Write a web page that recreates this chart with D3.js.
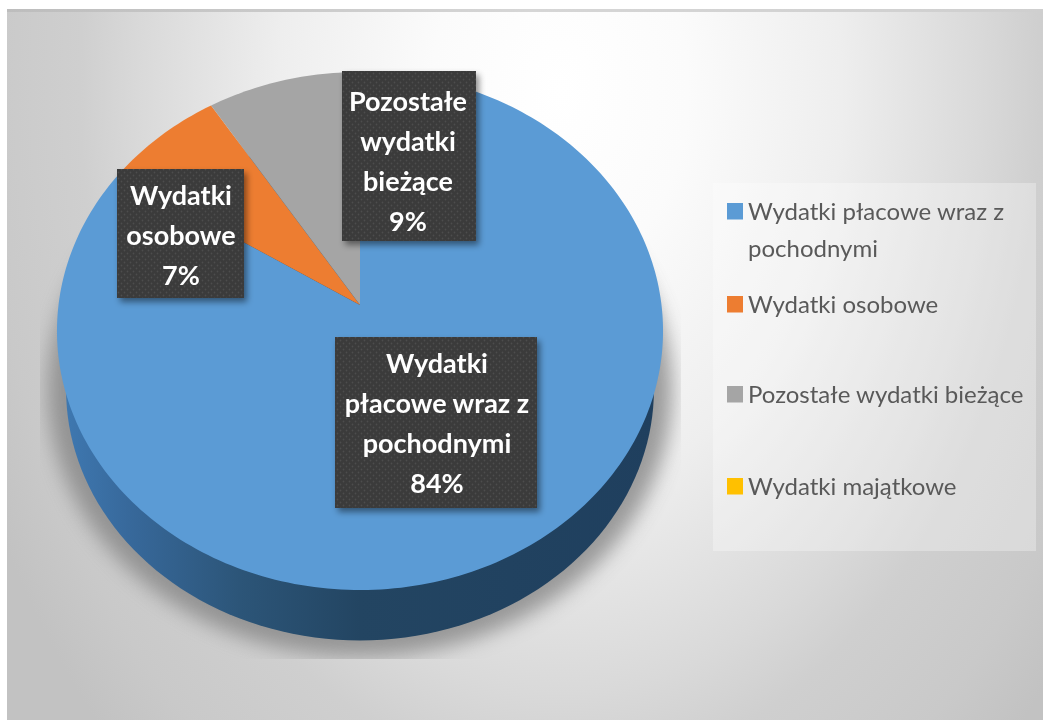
<!DOCTYPE html>
<html><head><meta charset="utf-8">
<script src="https://cdn.jsdelivr.net/npm/d3@7"></script>
<style>html,body{margin:0;padding:0;background:#fff;overflow:hidden}svg{display:block}#soft{filter:blur(0.45px)}</style>
</head><body><svg id="c" width="1043" height="720"><g id="soft"></g></svg>
<script>
const categories = ["Wydatki płacowe wraz z pochodnymi","Wydatki osobowe","Pozostałe wydatki bieżące","Wydatki majątkowe"];
const values = [84,7,9,0];
const colors = ["#5b9bd5","#ed7d31","#a5a5a5","#ffc000"];
const labelLines = [["Wydatki","płacowe wraz z","pochodnymi","84%"],["Wydatki","osobowe","7%"],["Pozostałe","wydatki","bieżące","9%"]];
const legendLines = [["Wydatki płacowe wraz z","pochodnymi"],["Wydatki osobowe"],["Pozostałe wydatki bieżące"],["Wydatki majątkowe"]];

const root = d3.select("#c"), defs = root.append("defs"), svg = d3.select("#soft");
const W=1043,H=720;

// background
const bg = defs.append("radialGradient").attr("id","bg").attr("gradientUnits","userSpaceOnUse")
  .attr("cx",0).attr("cy",0).attr("r",640).attr("gradientTransform","translate(560,90) scale(1,1.43)");
[[0,"#ffffff"],[.2,"#fbfbfb"],[.44,"#eeeeee"],[.66,"#d9d9d9"],[.75,"#cfcfcf"],[.9,"#c9c9c9"],[1,"#c2c2c2"]].forEach(([o,c])=>bg.append("stop").attr("offset",o).attr("stop-color",c));
svg.append("rect").attr("x",7).attr("y",10).attr("width",W-7+4).attr("height",H-10+4).attr("fill","url(#bg)");
const topLine = defs.append("linearGradient").attr("id","tl");
[[0,"#bdbdbd"],[.5,"#d6d6d6"],[1,"#cfcfcf"]].forEach(([o,c])=>topLine.append("stop").attr("offset",o).attr("stop-color",c));
svg.append("rect").attr("x",7).attr("y",9).attr("width",W-7+4).attr("height",3).attr("fill","url(#tl)");

// legend panel
svg.append("rect").attr("x",713).attr("y",183).attr("width",323).attr("height",368).attr("fill","#fff").attr("opacity",.3);

// pie in perspective
const cx=360, cy=305, a=301.5, b=256.4, k=-0.1004;
const project = (t,r=1,dy=0,s=1) => {
  const u=Math.sin(t)*r, v=-Math.cos(t)*r, w=1+k*v;
  return [cx+s*a*u/w, cy+dy+s*b*v/w];
};
const pie = d3.pie().sort(null).value(d=>d);
const arcs = pie(values);
const line = d3.line();
const full = d3.range(0,361,2).map(d=>d*Math.PI/180);
const wedge = d => {
  const n = Math.max(2,Math.ceil((d.endAngle-d.startAngle)/0.02));
  const pts=[[cx,cy]];
  for(let i=0;i<=n;i++) pts.push(project(d.startAngle+(d.endAngle-d.startAngle)*i/n));
  return line(pts)+"Z";
};

// shadow
const f = defs.append("filter").attr("id","sh").attr("x","-20%").attr("y","-20%").attr("width","140%").attr("height","140%");
f.append("feGaussianBlur").attr("stdDeviation",10);
const cp = defs.append("clipPath").attr("id","shc");
cp.append("rect").attr("x",40).attr("y",60).attr("width",641).attr("height",599);
svg.append("g").attr("clip-path","url(#shc)").append("path")
  .attr("d",line(full.map(t=>project(t,1,58,1.03)))+"Z").attr("fill","#858585").attr("opacity",.8).attr("filter","url(#sh)");

// wall
const wg = defs.append("linearGradient").attr("id","wall").attr("gradientUnits","userSpaceOnUse").attr("x1",60).attr("x2",660).attr("y1",0).attr("y2",0);
[[0,"#3f79b2"],[.12,"#37689a"],[.3,"#2c5578"],[.5,"#234562"],[1,"#1f3f5e"]].forEach(([o,c])=>wg.append("stop").attr("offset",o).attr("stop-color",c));
svg.append("path").attr("d",line(full.map(t=>project(t,1,59,0.97)))+"Z").attr("fill","url(#wall)");

// slices
const sl = svg.append("g");
sl.selectAll("path").data(arcs).join("path").attr("d",wedge)
  .attr("fill",(d,i)=>colors[i]);

// label boxes
const pat = defs.append("pattern").attr("id","dots").attr("patternUnits","userSpaceOnUse").attr("width",6).attr("height",6);
pat.append("rect").attr("width",6).attr("height",6).attr("fill","#3a3a3a");
pat.append("circle").attr("cx",1.5).attr("cy",1.5).attr("r",.9).attr("fill","#4d4d4d");
pat.append("circle").attr("cx",4.5).attr("cy",4.5).attr("r",.9).attr("fill","#4d4d4d");
const bs = defs.append("filter").attr("id","bs").attr("x","-20%").attr("y","-20%").attr("width","140%").attr("height","140%");
bs.append("feDropShadow").attr("dx",3).attr("dy",4).attr("stdDeviation",3).attr("flood-color","#000").attr("flood-opacity",.45);

const boxes = [
 {x:335,y:337,w:202,h:171,cx:437,y0:373},
 {x:117,y:169,w:127,h:129,cx:181,y0:205},
 {x:342,y:71,w:134,h:170,cx:408,y0:111}
];
const lg = svg.append("g").selectAll("g").data(labelLines).join("g");
lg.append("rect").attr("x",(d,i)=>boxes[i].x).attr("y",(d,i)=>boxes[i].y).attr("width",(d,i)=>boxes[i].w).attr("height",(d,i)=>boxes[i].h)
  .attr("fill","url(#dots)").attr("filter","url(#bs)");
lg.each(function(lines,i){
  d3.select(this).selectAll("text").data(lines).join("text")
    .attr("x",boxes[i].cx).attr("y",(d,j)=>boxes[i].y0+j*40)
    .attr("text-anchor","middle").attr("fill","#fff")
    .attr("font-family","Lato, 'Open Sans', sans-serif").attr("font-weight",700).attr("font-size",27)
    .text(d=>d);
});

// legend
const ly = [203,296,386,478];
const leg = svg.append("g").selectAll("g").data(categories).join("g");
leg.append("rect").attr("x",727).attr("y",(d,i)=>ly[i]).attr("width",16).attr("height",16.5).attr("fill",(d,i)=>colors[i]);
leg.each(function(d,i){
  d3.select(this).selectAll("text").data(legendLines[i]).join("text")
   .attr("x",748).attr("y",(t,j)=>ly[i]+17+j*37)
   .attr("fill","#595959").attr("font-family","Lato, 'Open Sans', sans-serif").attr("font-size",24).text(t=>t);
});
</script></body></html>
